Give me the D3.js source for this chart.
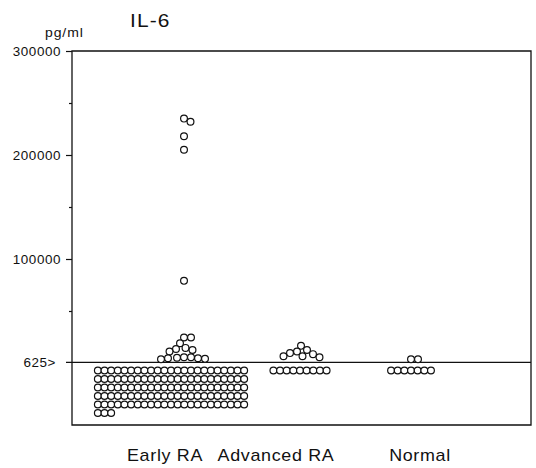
<!DOCTYPE html>
<html>
<head>
<meta charset="utf-8">
<script src="https://cdn.jsdelivr.net/npm/d3@7"></script>
<style>
  html, body { margin: 0; padding: 0; background: #fff; }
  svg { display: block; }
  text { font-family: "Liberation Sans", Arial, sans-serif; fill: #111; }
</style>
</head>
<body>
<svg id="chart" width="536" height="468"></svg>
<script>
// ---- data ----
const groups = ["Early RA", "Advanced RA", "Normal"];
const threshold = 625;                       // detection limit, pg/ml
const belowCounts = [118, 9, 7];              // samples below 625 pg/ml
const earlyAbove = [235000, 232000, 218000, 205000, 79000,
                    24500, 24500, 19000, 14500, 13500, 12500, 11000,
                    5500, 5500, 5000, 4500, 4500, 4000, 3500];
const advancedAbove = [16500, 12500, 11000, 9500, 8500, 6500, 6500, 5500];
const normalAbove = [3500, 3500];
const majorTicks = [100000, 200000, 300000];
const minorTicks = [50000, 150000, 250000];
const title = "IL-6";
const unit = "pg/ml";

// ---- layout ----
const svg = d3.select("#chart");
const frame = { left: 72, right: 531, top: 51, bottom: 425 };
const y = d3.scaleLinear().domain([0, 300000]).range([363, frame.top]);
const swarmCenter = d3.scaleOrdinal().domain(groups).range([184, 301, 411]);
const gridCenter = d3.scaleOrdinal().domain(groups).range([171, 300, 411]);
const labelCenter = d3.scaleOrdinal().domain(groups).range([165, 276, 420]);
const r = 3.4, diam = 6.9, stepX = 6.65, perRow = 23;
const rowY = d3.scaleLinear().domain([0, 1]).range([370.5, 379]);
const SX = 1.12; // horizontal stretch of the wide typeface

function label(x, yy, txt, size, anchor, ls, sx) {
  return svg.append("text")
    .attr("transform", `translate(${x},${yy}) scale(${sx || SX},1)`)
    .attr("text-anchor", anchor).attr("font-size", size)
    .attr("letter-spacing", ls + "px").text(txt);
}

// frame
const thrY = y(threshold);
svg.append("path")
  .attr("d", `M${frame.left},${frame.top}H${frame.right}V${frame.bottom}H${frame.left}Z`)
  .attr("fill", "none").attr("stroke", "#111").attr("stroke-width", 1.3);
svg.append("line")
  .attr("x1", frame.left - 6).attr("x2", frame.right)
  .attr("y1", thrY).attr("y2", thrY)
  .attr("stroke", "#111").attr("stroke-width", 1.2);

// axis
const axis = d3.axisLeft(y).tickValues(majorTicks).tickSize(6).tickPadding(4)
  .tickFormat(d3.format("d"));
const gA = svg.append("g").attr("transform", `translate(${frame.left},0)`).call(axis);
gA.select(".domain").remove();
gA.selectAll(".tick line").attr("stroke", "#111").attr("stroke-width", 1.2);
gA.selectAll(".tick text")
  .attr("font-size", 12).attr("letter-spacing", "0.5px")
  .attr("font-family", "Liberation Sans").attr("fill", "#111")
  .attr("dy", "0.35em").attr("x", -11 / SX)
  .attr("transform", `scale(${SX},1)`);
const axisMinor = d3.axisLeft(y).tickValues(minorTicks).tickSize(3).tickFormat("");
const gM = svg.append("g").attr("transform", `translate(${frame.left},0)`).call(axisMinor);
gM.select(".domain").remove();
gM.selectAll(".tick line").attr("stroke", "#111").attr("stroke-width", 1.2);

label(56, thrY + 4.2, threshold + ">", 12, "end", 0.5);

// titles
label(45, 37, unit, 12.5, "start", 0.8);
label(130, 27, title, 19, "start", 1, 1.1);

// category labels
groups.forEach(g => label(labelCenter(g), 461, g, 16, "middle", 0.6));

// below-threshold dot grids
const belowDots = [];
groups.forEach((g, gi) => {
  const n = belowCounts[gi];
  const w = Math.min(n, perRow);
  const x0 = gridCenter(g) - (w - 1) * stepX / 2;
  for (let i = 0; i < n; i++) {
    const row = Math.floor(i / perRow), col = i % perRow;
    belowDots.push({ x: x0 + col * stepX, y: rowY(row) });
  }
});

// above-threshold dodge (beeswarm) layout
function dodge(values, cx) {
  const placed = [];
  values.slice().sort((a, b) => b - a).forEach(v => {
    const py = y(v);
    let off = 0, k = 0;
    while (true) {
      const cand = cx + off;
      const ok = placed.every(p => (p.x - cand) ** 2 + (p.y - py) ** 2 >= diam * diam);
      if (ok) { placed.push({ x: cand, y: py }); break; }
      k++;
      off = (k % 2 ? 1 : -1) * Math.ceil(k / 2) * 0.5;
    }
  });
  return placed;
}
const aboveDots = [
  ...dodge(earlyAbove, swarmCenter(groups[0])),
  ...dodge(advancedAbove, swarmCenter(groups[1])),
  ...dodge(normalAbove, swarmCenter(groups[2]))
];

svg.selectAll(".dot").data(belowDots.concat(aboveDots)).join("circle")
  .attr("class", "dot")
  .attr("cx", d => d.x).attr("cy", d => d.y).attr("r", r)
  .attr("fill", "#fff").attr("stroke", "#111").attr("stroke-width", 1.2);
</script>
</body>
</html>
